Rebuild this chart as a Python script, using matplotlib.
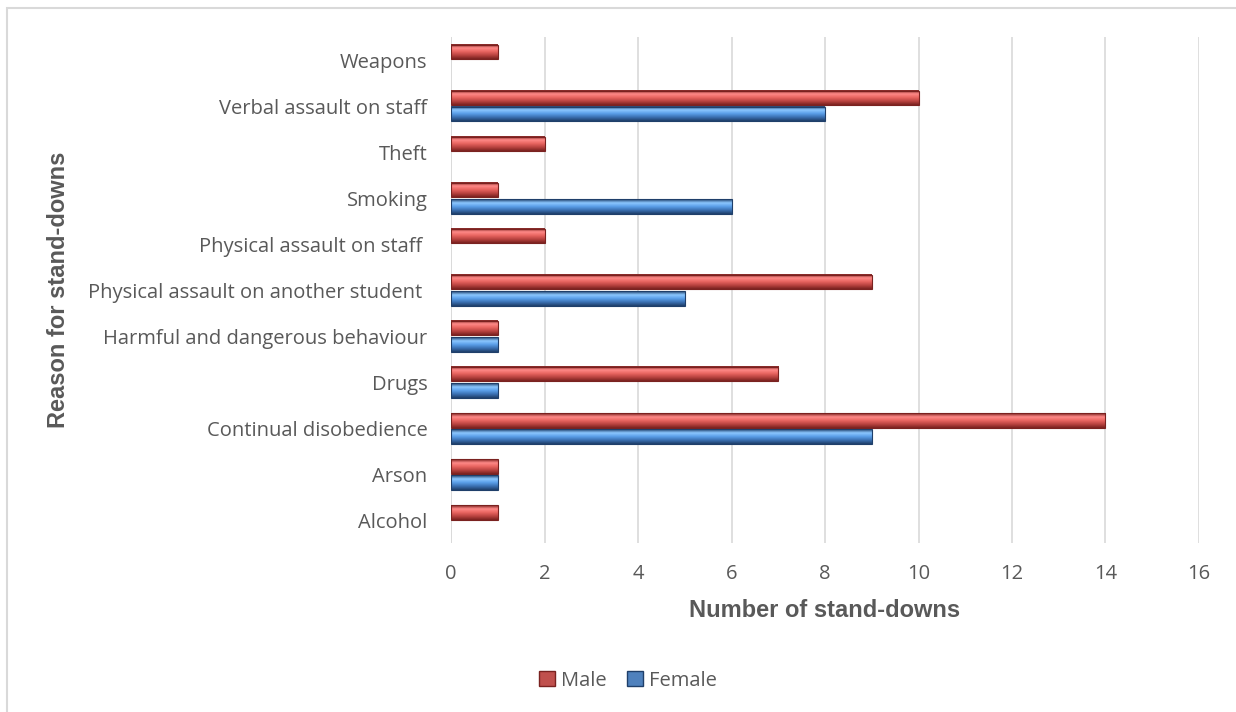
import numpy as np
import matplotlib
matplotlib.use('Agg')
import matplotlib.pyplot as plt
from matplotlib.colors import LinearSegmentedColormap
from matplotlib.patches import Rectangle, Patch

categories = ['Alcohol', 'Arson', 'Continual disobedience', 'Drugs',
              'Harmful and dangerous behaviour',
              'Physical assault on another student ',
              'Physical assault on staff ', 'Smoking', 'Theft',
              'Verbal assault on staff', 'Weapons']
male = [1, 1, 14, 7, 1, 9, 2, 1, 2, 10, 1]
female = [0, 1, 9, 1, 1, 5, 0, 6, 0, 8, 0]
x_ticks = [0, 2, 4, 6, 8, 10, 12, 14, 16]

TEXT = '#595959'
FONT = 'Open Sans'
red_cmap = LinearSegmentedColormap.from_list(
    'r', ['#7a2220', '#ff8a88', '#e86460', '#b8423f', '#7a2220'])
blue_cmap = LinearSegmentedColormap.from_list(
    'b', ['#1f3f6a', '#8cc8ff', '#5a9ee8', '#3a6fb0', '#1f3f6a'])

fig = plt.figure(figsize=(12.36, 7.12), dpi=100)
ax = fig.add_axes([0.365, 0.237, 0.605, 0.711])

grad = np.linspace(0, 1, 64).reshape(-1, 1)
h = 0.32
off = 0.175
y = np.arange(len(categories))


def draw_bars(vals, ypos, cmap):
    for v, yy in zip(vals, ypos):
        if v <= 0:
            continue
        ax.imshow(grad, cmap=cmap, aspect='auto', origin='upper',
                  extent=[0, v, yy - h / 2, yy + h / 2], zorder=3,
                  interpolation='bilinear')
        ax.add_patch(Rectangle((0, yy - h / 2), v, h, fill=False,
                               edgecolor=cmap(0.0), lw=0.8, zorder=4))


draw_bars(male, y + off, red_cmap)
draw_bars(female, y - off, blue_cmap)

ax.set_xlim(0, 16)
ax.set_ylim(-0.5, len(categories) - 0.5)
ax.set_xticks(x_ticks)
ax.set_yticks(y)
ax.set_yticklabels(categories)
ax.grid(axis='x', color='#d9d9d9', lw=1.2, zorder=0)
ax.set_axisbelow(True)
for s in ax.spines.values():
    s.set_visible(False)
ax.axvline(0, color='#d9d9d9', lw=1.2, zorder=1)
ax.tick_params(length=0, labelsize=14.5, colors=TEXT)
ax.tick_params(axis='x', pad=15)
ax.tick_params(axis='y', pad=17)
for lab in ax.get_yticklabels() + ax.get_xticklabels():
    lab.set_fontfamily(FONT)
    lab.set_color(TEXT)

ax.set_xlabel('Number of stand-downs', fontsize=17, fontweight='bold',
              color=TEXT, family='Liberation Sans', labelpad=11)
fig.text(0.047, 0.593, 'Reason for stand-downs', rotation=90, fontsize=17,
         fontweight='bold', color=TEXT, family='Liberation Sans',
         ha='center', va='center')

handles = [Patch(facecolor='#c0504d', edgecolor='#7a2220', label='Male'),
           Patch(facecolor='#4f81bd', edgecolor='#1f3f6a', label='Female')]
leg = fig.legend(handles=handles, loc='center', bbox_to_anchor=(0.508, 0.044),
                 ncol=2, frameon=False, handlelength=0.8, handleheight=0.8,
                 handletextpad=0.3, columnspacing=1.0,
                 prop={'family': FONT, 'size': 14.5})
for t in leg.get_texts():
    t.set_color(TEXT)

fig.patches.append(Rectangle((0.006, -0.01), 1.1, 0.999, transform=fig.transFigure,
                             fill=False, edgecolor='#d9d9d9', lw=1.5))

fig.savefig('out.png', dpi=100)
